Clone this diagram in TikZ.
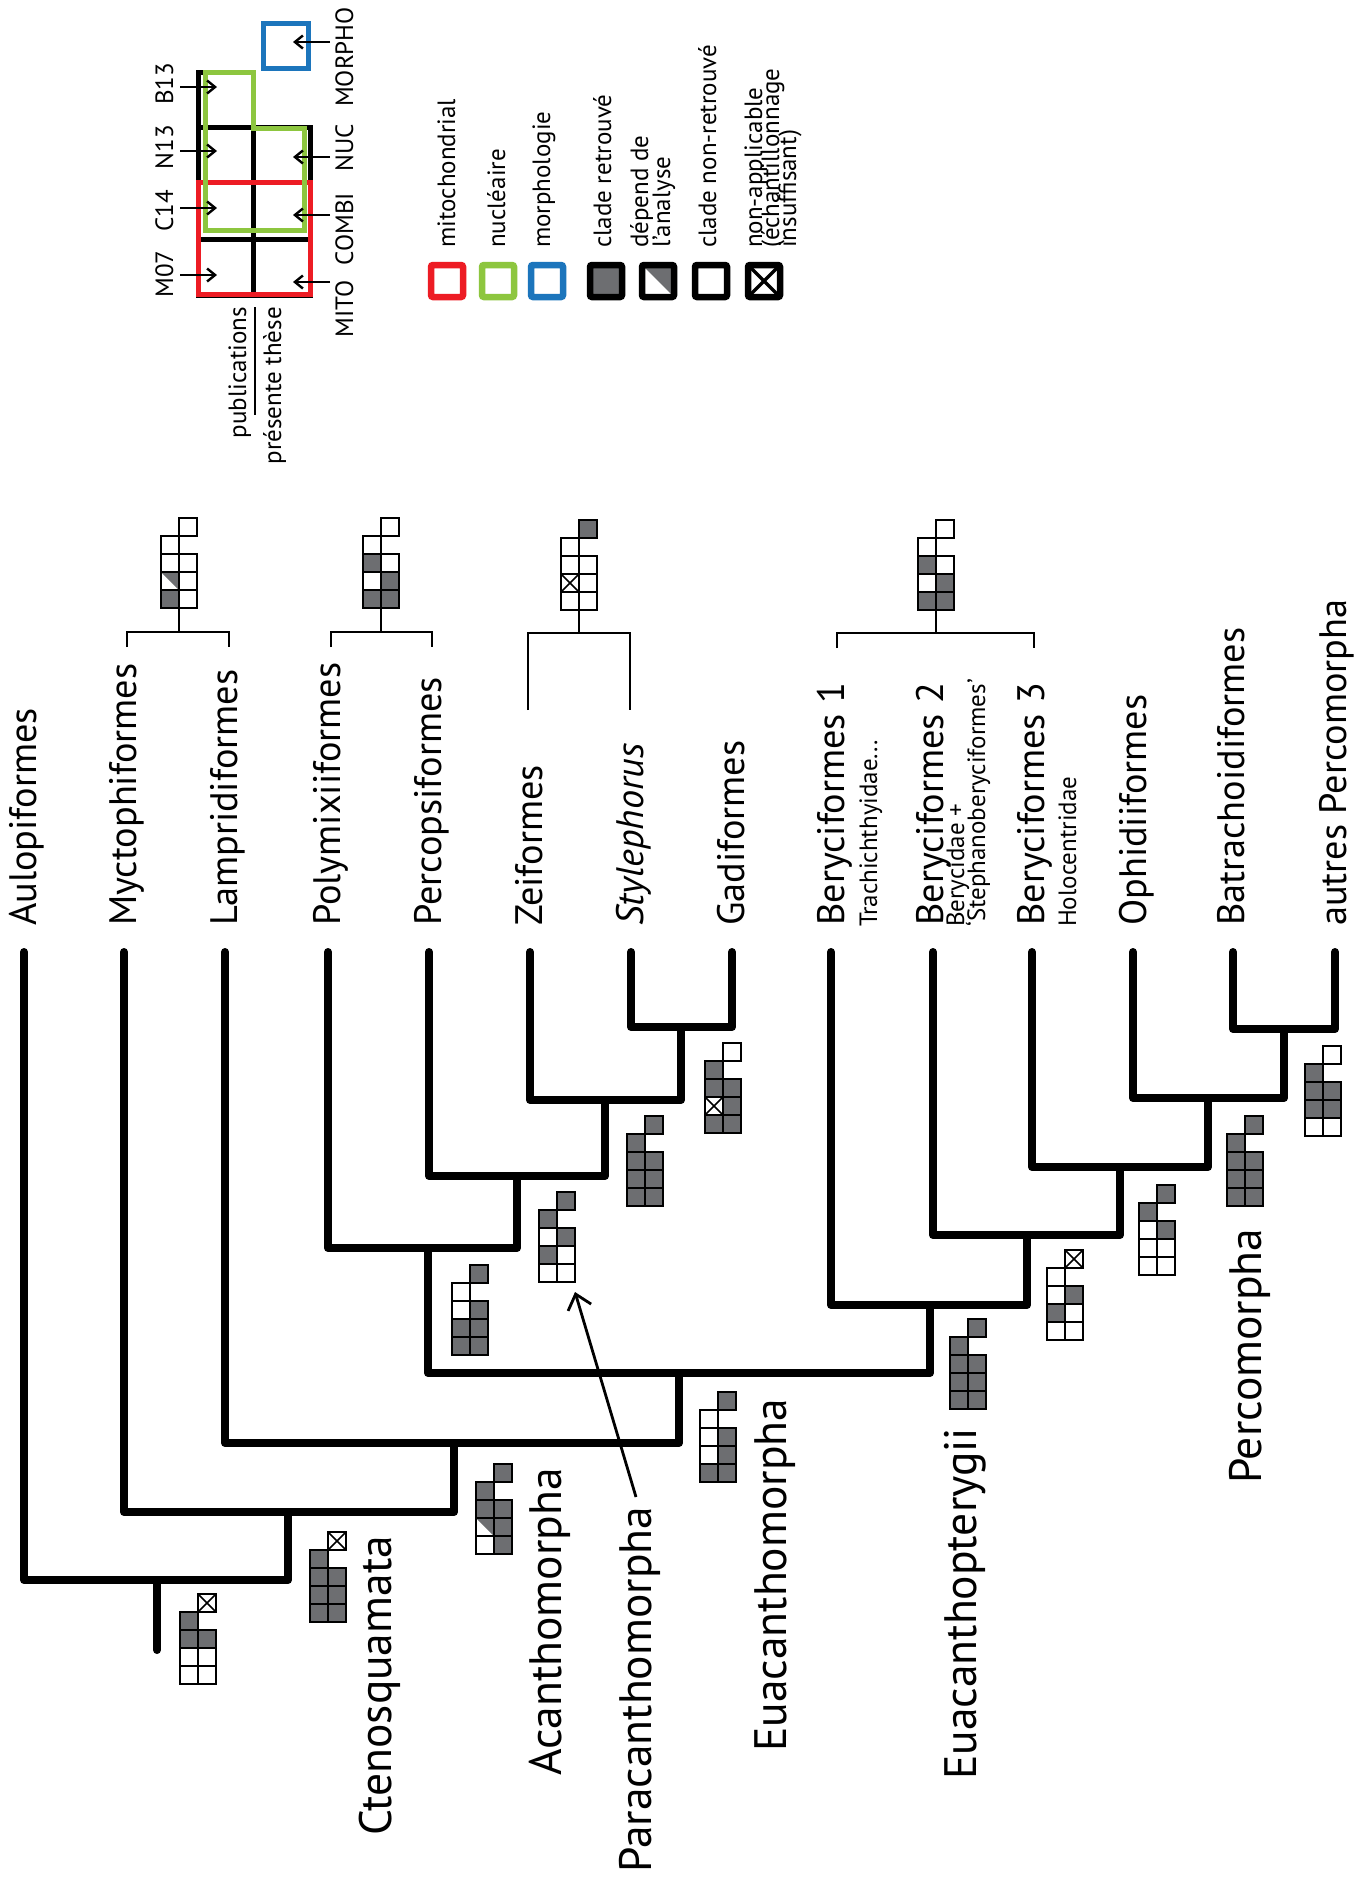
\documentclass[tikz,border=0pt]{standalone}
\usepackage{fontspec}
\setmainfont{PT Sans}
\usetikzlibrary{arrows.meta}
\definecolor{cgrey}{RGB}{109,110,113}
\definecolor{cred}{RGB}{237,28,36}
\definecolor{cgreen}{RGB}{141,198,63}
\definecolor{cblue}{RGB}{28,117,188}
\newcommand\cellW[2]{\draw[icl] (#1,#2) rectangle ++(18,18);}
\newcommand\cellG[2]{\filldraw[icl,fill=cgrey] (#1,#2) rectangle ++(18,18);}
\newcommand\cellH[2]{\fill[cgrey] (#1,#2) -- ++(18,0) -- ++(0,18) -- cycle; \draw[icl] (#1,#2) rectangle ++(18,18);}
\newcommand\cellX[2]{\draw[icl] (#1,#2) rectangle ++(18,18); \draw[icl,line width=1.6pt] (#1,#2) -- ++(18,18) (#1+18,#2) -- ++(-18,18);}
\newcommand\ficon[9]{\begin{scope}[shift={(#1)}]
 \csname cell#2\endcsname{0}{-18}
 \csname cell#3\endcsname{0}{-36}
 \csname cell#4\endcsname{0}{-54}
 \csname cell#5\endcsname{0}{-72}
 \csname cell#6\endcsname{18}{-18}
 \csname cell#7\endcsname{18}{-36}
 \csname cell#8\endcsname{18}{-54}
 \csname cell#9\endcsname{18}{-90}
\end{scope}}
\begin{document}
\begin{tikzpicture}[x=1pt,y=-1pt,
  icl/.style={line width=2.4pt},
  br/.style={line width=8pt,line cap=round,line join=round},
  brk/.style={line width=2.5pt},
  lsq/.style={line width=6.5pt,rounded corners=2pt},
  lgrid/.style={line width=5pt},
  larr/.style={line width=2.4pt,-{Straight Barb[length=8pt,width=13pt,line width=2.4pt]}},
  tip/.style={rotate=90,anchor=base west,inner sep=0pt,font=\fontsize{38.3}{42}\selectfont},
  sub/.style={rotate=90,anchor=base west,inner sep=0pt,font=\fontsize{25}{28}\selectfont},
  clade/.style={rotate=90,anchor=base west,inner sep=0pt,font=\fontsize{45.5}{50}\selectfont},
  leg/.style={rotate=90,anchor=base west,inner sep=0pt,font=\fontsize{25}{27}\selectfont},
  code/.style={rotate=90,anchor=base,inner sep=0pt,font=\fontsize{25}{28}\selectfont}]
\useasboundingbox[fill=white] (0,0) rectangle (1356,1888);

% ---------- tree ----------
\draw[br] (631,952) |- (732,1027) -- (732,952);
\draw[br] (530,952) |- (681,1100) -- (681,1027);
\draw[br] (429,952) |- (605,1176) -- (605,1100);
\draw[br] (328,952) |- (517,1248) -- (517,1176);
\draw[br] (1233,952) |- (1335,1029) -- (1335,952);
\draw[br] (1133,952) |- (1284,1098) -- (1284,1029);
\draw[br] (1032,952) |- (1208,1167) -- (1208,1098);
\draw[br] (933,952) |- (1120,1235) -- (1120,1167);
\draw[br] (831,952) |- (1027,1305) -- (1027,1235);
\draw[br] (428,1248) |- (930,1373) -- (930,1305);
\draw[br] (225,952) |- (679,1443) -- (679,1373);
\draw[br] (124,952) |- (454,1512) -- (454,1443);
\draw[br] (24,952) |- (288,1580) -- (288,1512);
\draw[br] (157,1580) -- (157,1650);

% ---------- brackets above labels ----------
\draw[brk] (127,647) |- (229,632) -- (229,647);
\draw[brk] (179,608) -- (179,632);
\draw[brk] (331,647) |- (432,632) -- (432,647);
\draw[brk] (381,608) -- (381,632);
\draw[brk] (528,710) |- (630,633) -- (630,710);
\draw[brk] (579,610) -- (579,633);
\draw[brk] (837,648) |- (1034,633) -- (1034,648);
\draw[brk] (936,610) -- (936,633);

% ---------- icons: M07 C14 N13 B13 | MITO COMBI NUC MORPHO ----------
\ficon{161,608}{G}{H}{W}{W}{W}{W}{W}{W}
\ficon{363,608}{G}{W}{G}{W}{G}{G}{W}{W}
\ficon{561,610}{W}{X}{W}{W}{W}{W}{W}{G}
\ficon{918,610}{G}{W}{G}{W}{G}{G}{W}{W}
\ficon{705,1133}{G}{X}{G}{G}{G}{G}{G}{W}
\ficon{627,1206}{G}{G}{G}{G}{G}{G}{G}{G}
\ficon{539,1282}{W}{G}{W}{G}{W}{W}{G}{G}
\ficon{452,1355}{G}{G}{W}{W}{G}{G}{G}{G}
\ficon{700,1482}{G}{W}{W}{W}{G}{G}{G}{G}
\ficon{476,1554}{W}{H}{G}{G}{G}{G}{G}{G}
\ficon{310,1622}{G}{G}{G}{G}{G}{G}{G}{X}
\ficon{180,1684}{W}{W}{G}{G}{W}{W}{G}{X}
\ficon{1305,1136}{W}{G}{G}{G}{W}{G}{G}{W}
\ficon{1227,1206}{G}{G}{G}{G}{G}{G}{G}{G}
\ficon{1139,1275}{W}{W}{W}{G}{W}{W}{G}{G}
\ficon{1047,1340}{W}{G}{W}{W}{W}{W}{G}{X}
\ficon{950,1409}{G}{G}{G}{G}{G}{G}{G}{G}

% ---------- arrow to Paracanthomorpha icon ----------
\coordinate (parastart) at (636,1497);
\coordinate (paraicon) at (575,1292);
\draw[line width=2.8pt,-{Straight Barb[length=14pt,width=24pt,line width=2.8pt]}] (parastart) -- (paraicon);

% ---------- tip labels ----------
\node[tip] (t1) at (36,926) {Aulopiformes};
\node[tip] (t2) at (136,926) {Myctophiformes};
\node[tip] (t3) at (237,926) {Lampridiformes};
\node[tip] (t4) at (340,926) {Polymixiiformes};
\node[tip] (t5) at (441,926) {Percopsiformes};
\node[tip] (t6) at (542,926) {Zeiformes};
\node[tip] (t7) at (643,926) {\itshape Stylephorus};
\node[tip] (t8) at (744,926) {Gadiformes};
\node[tip] (t9) at (844,926) {Beryciformes 1};
\node[sub] (s9) at (877,927) {Trachichthyidae...};
\node[tip] (t10) at (943,926) {Beryciformes 2};
\node[sub] (s10a) at (964,927) {Berycidae +};
\node[sub] (s10b) at (985,927) {‘Stephanoberyciformes’};
\node[tip] (t11) at (1044,926) {Beryciformes 3};
\node[sub] (s11) at (1076,927) {Holocentridae};
\node[tip] (t12) at (1146,926) {Ophidiiformes};
\node[tip] (t13) at (1244,926) {Batrachoidiformes};
\node[tip] (t14) at (1346,926) {autres Percomorpha};

% ---------- clade labels ----------
\node[clade] (c1) at (391,1836) {Ctenosquamata};
\node[clade] (c2) at (561,1776) {Acanthomorpha};
\node[clade] (c3) at (651,1873) {Paracanthomorpha};
\node[clade] (c4) at (786,1752) {Euacanthomorpha};
\node[clade] (c5) at (976,1780) {Euacanthopterygii};
\node[clade] (c6) at (1261,1484) {Percomorpha};

% ---------- legend grid ----------
\draw[lgrid] (198,72) -- (253,72) -- (253,127) -- (310,127) -- (310,295) -- (198,295) -- cycle;
\draw[lgrid] (253,127) -- (253,295) (198,239) -- (310,239) (198,182) -- (310,182) (198,127) -- (253,127);
\draw[lgrid,cred] (198,182.5) rectangle (310,294.5);
\draw[lgrid,cgreen] (205,72.5) -- (253,72.5) -- (253,128) -- (304.5,128) -- (304.5,230.5) -- (205,230.5) -- cycle;
\draw[lgrid,cblue] (263,23) rectangle (308,68);

\draw[larr] (180,87) -- (217,87);
\draw[larr] (180,151) -- (217,151);
\draw[larr] (180,208) -- (217,208);
\draw[larr] (180,275) -- (217,275);
\draw[larr] (330,42) -- (293,42);
\draw[larr] (330,157) -- (293,157);
\draw[larr] (330,215) -- (293,215);
\draw[larr] (330,282) -- (293,282);

\node[code] (kB) at (173,84) {B13};
\node[code] (kN) at (173,147) {N13};
\node[code] (kC) at (173,211) {C14};
\node[code] (kM) at (173,274) {M07};
\node[code] (kMO) at (353,57) {MORPHO};
\node[code] (kNU) at (353,148) {NUC};
\node[code] (kCO) at (353,229) {COMBI};
\node[code] (kMI) at (353,309) {MITO};

\node[leg,anchor=base east] (pub) at (246,307) {publications};
\node[leg,anchor=base east] (these) at (281,307) {présente thèse};
\draw[line width=2pt] (255,307) -- (255,415);

% ---------- legend keys ----------
\draw[lsq,cred] (431,265) rectangle (463,297);
\draw[lsq,cgreen] (482,265) rectangle (514,297);
\draw[lsq,cblue] (531,265) rectangle (563,297);
\filldraw[lsq,fill=cgrey] (590,265) rectangle (622,297);
\fill[cgrey] (642,265) -- (674,265) -- (674,297) -- cycle;
\draw[lsq] (642,265) rectangle (674,297);
\draw[lsq] (695,265) rectangle (727,297);
\draw[lsq] (748,265) rectangle (780,297);
\draw[line width=3.5pt] (748,265) -- (780,297) (780,265) -- (748,297);

\node[leg] (l1) at (455,248) {mitochondrial};
\node[leg] (l2) at (505,248) {nucléaire};
\node[leg] (l3) at (550,248) {morphologie};
\node[leg] (l4) at (611,248) {clade retrouvé};
\node[leg] (l5a) at (648,248) {dépend de};
\node[leg] (l5b) at (670,248) {l’analyse};
\node[leg] (l6) at (716,248) {clade non-retrouvé};
\node[leg] (l7a) at (762,248) {non-applicable};
\node[leg] (l7b) at (779,248) {(échantillonnage};
\node[leg] (l7c) at (796,248) {insuffisant)};
\end{tikzpicture}
\end{document}
